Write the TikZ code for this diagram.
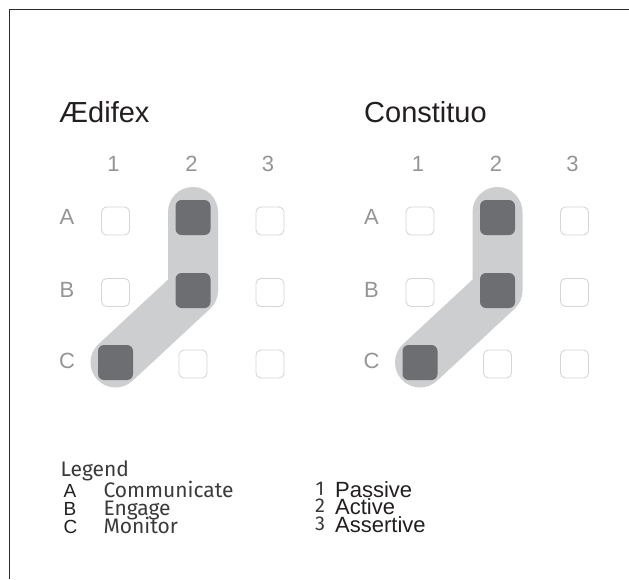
\documentclass[tikz,border=0pt]{standalone}
\usepackage{fontspec}
\setmainfont{Liberation Sans}
\newfontfamily\dinfont{Fira Sans}
\definecolor{bandgray}{HTML}{CDCED0}
\definecolor{darksq}{HTML}{6D6E71}
\definecolor{lightedge}{HTML}{D6D6D6}
\definecolor{labelgray}{HTML}{939598}
\definecolor{titleblack}{HTML}{231F20}
\definecolor{legendgray}{HTML}{3A3A3A}
\definecolor{framegray}{HTML}{2B2B2B}
\begin{document}
\begin{tikzpicture}[x=1pt,y=-1pt,
  lightsq/.style={draw=lightedge, line width=0.9pt, fill=white, rounded corners=5pt, minimum size=28pt, inner sep=0pt},
  darksquare/.style={fill=darksq, rounded corners=6pt, minimum size=35pt, inner sep=0pt},
  band/.style={draw=bandgray, line width=50pt, line cap=round, line join=round},
  title/.style={anchor=base west, inner sep=0pt, text=titleblack, font=\fontsize{29}{33}\selectfont},
  axislabel/.style={anchor=base, inner sep=0pt, text=labelgray, font=\fontsize{22}{26}\selectfont},
  legdin/.style={anchor=base west, inner sep=0pt, text=legendgray, font=\dinfont\fontsize{21}{24}\selectfont},
  legkey/.style={anchor=base west, inner sep=0pt, text=titleblack, font=\fontsize{19}{22}\selectfont},
  legnum/.style={anchor=base, inner sep=0pt, text=legendgray, font=\dinfont\fontsize{20}{24}\selectfont},
  legword/.style={anchor=base west, inner sep=0pt, text=titleblack, font=\fontsize{22}{24}\selectfont},
]
\useasboundingbox (0,0) rectangle (629,579);
\fill[white] (0,0) rectangle (629,579);
% frame
\draw[framegray, line width=1.2pt] (629,9.5) -- (9.5,9.5) -- (9.5,579);

% titles
\node[title] (t1) at (59,122.5) {Ædifex};
\node[title] (t2) at (364,122.5) {Constituo};

\foreach \g/\ox in {1/0, 2/304.5} {
  % positions of the highlighted cells
  \coordinate (g\g-pA2) at (\ox+193,217.5);
  \coordinate (g\g-pB2) at (\ox+193,290.5);
  \coordinate (g\g-pC1) at (\ox+115.5,362.5);
  \coordinate (g\g-top) at (\ox+193,212);
  % highlight band
  \draw[band] (g\g-top) -- (g\g-pB2) -- (g\g-pC1);
  % column labels
  \node[axislabel] (g\g-c1) at (\ox+113.5,171.7) {1};
  \node[axislabel] (g\g-c2) at (\ox+191.5,171.7) {2};
  \node[axislabel] (g\g-c3) at (\ox+268,171.7) {3};
  % row labels
  \node[axislabel] (g\g-rA) at (\ox+67,224) {A};
  \node[axislabel] (g\g-rB) at (\ox+67,297) {B};
  \node[axislabel] (g\g-rC) at (\ox+67,368.5) {C};
  % cells
  \node[lightsq] (g\g-A1) at (\ox+115.5,221) {};
  \node[darksquare] (g\g-A2) at (g\g-pA2) {};
  \node[lightsq] (g\g-A3) at (\ox+270,221) {};
  \node[lightsq] (g\g-B1) at (\ox+115.5,292.5) {};
  \node[darksquare] (g\g-B2) at (g\g-pB2) {};
  \node[lightsq] (g\g-B3) at (\ox+270,292.5) {};
  \node[darksquare] (g\g-C1) at (g\g-pC1) {};
  \node[lightsq] (g\g-C2) at (\ox+193,364) {};
  \node[lightsq] (g\g-C3) at (\ox+270,364) {};
}

% legend
\node[legdin] (leg) at (60.5,476.7) {Legend};
\node[legkey] (kA) at (63.5,497.7) {A};
\node[legkey] (kB) at (63.5,515.2) {B};
\node[legkey] (kC) at (63.5,533.3) {C};
\node[legdin] (wA) at (103.3,497.7) {Communicate};
\node[legdin] (wB) at (103.3,515.2) {Engage};
\node[legdin] (wC) at (103.3,533.3) {Monitor};
\node[legnum] (n1) at (320,495.5) {1};
\node[legnum] (n2) at (320,512.5) {2};
\node[legnum] (n3) at (320,530.5) {3};
\node[legword] (p1) at (335,497) {Passive};
\node[legword] (p2) at (335,514) {Active};
\node[legword] (p3) at (335,532) {Assertive};
\end{tikzpicture}
\end{document}
